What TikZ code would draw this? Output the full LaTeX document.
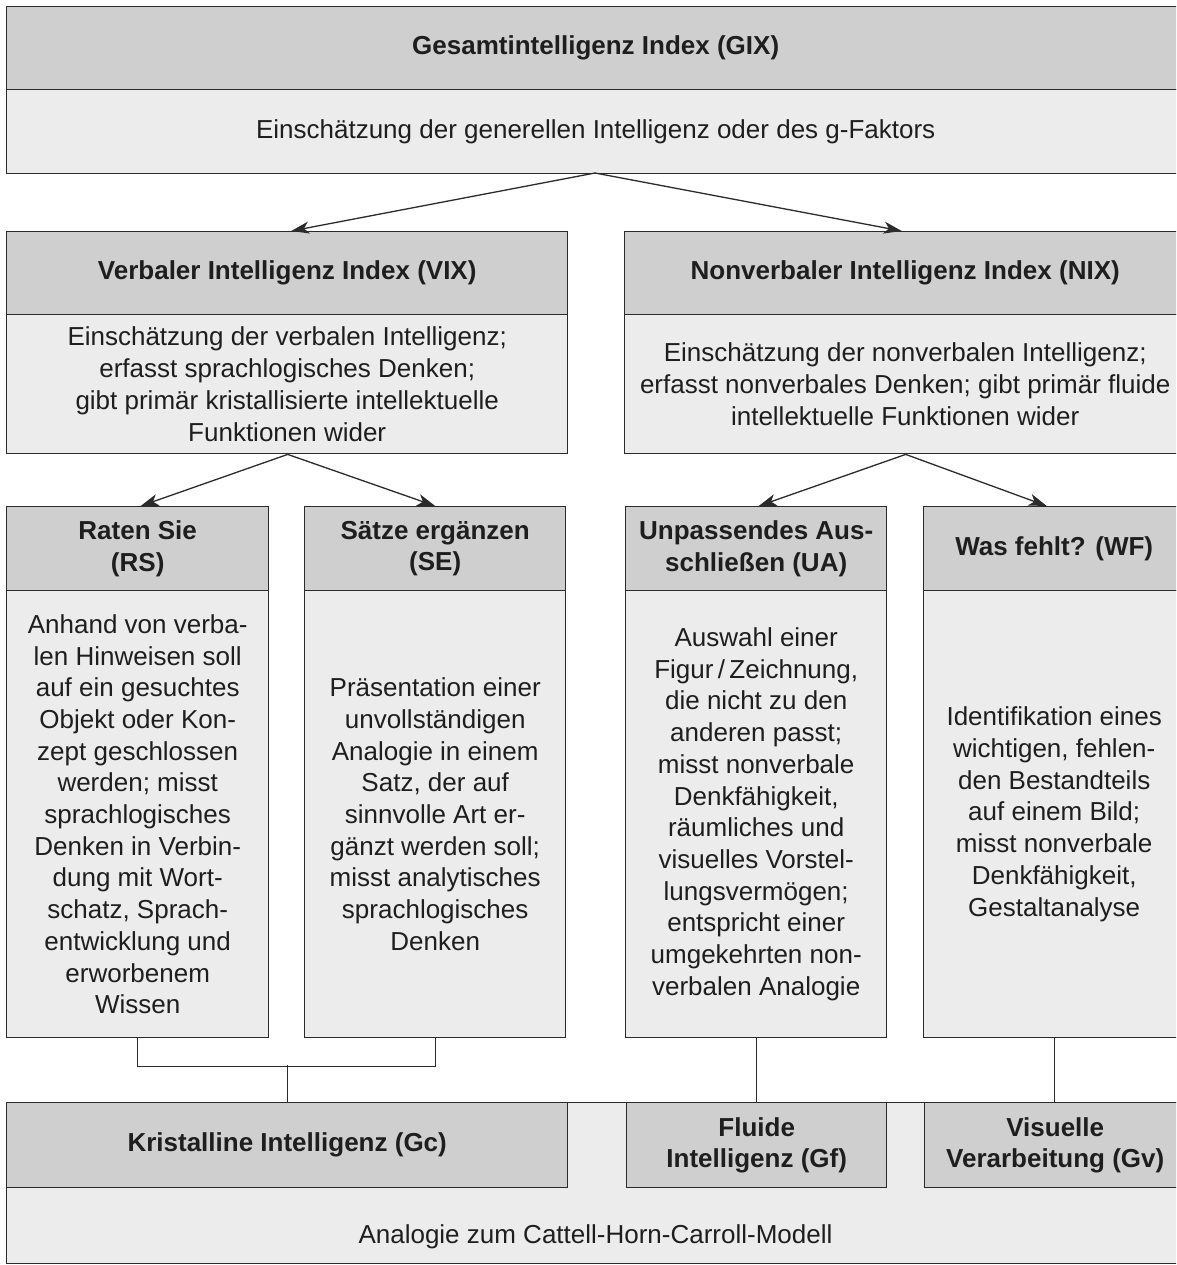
\documentclass[tikz,border=0pt]{standalone}
\usepackage{fontspec}
\setmainfont{Liberation Sans}
\usetikzlibrary{arrows.meta}
\definecolor{lc}{HTML}{2B2B2B}
\definecolor{hc}{HTML}{CFCFCF}
\definecolor{bc}{HTML}{ECECEC}
\definecolor{tc}{HTML}{1E1E1E}
\begin{document}
\begin{tikzpicture}[x=1pt,y=-1pt,
  box/.style={draw=lc, line width=1.4pt, inner sep=0pt, anchor=north west, align=center, text=tc},
  hdr/.style={box, fill=hc, font=\fontsize{26}{31.7}\selectfont\bfseries},
  bdy/.style={box, fill=bc, font=\fontsize{26}{31.7}\selectfont},
  arr/.style={draw=lc, line width=1.3pt, -{Stealth[length=18pt,width=12pt,inset=5pt]}},
  con/.style={draw=lc, line width=1.3pt}]
\useasboundingbox (0,0) rectangle (1176,1265);
\clip (0,0) rectangle (1176,1265);

% top
\node[hdr, minimum width=1178pt, minimum height=83pt] (gixh) at (6,6) {Gesamtintelligenz Index (GIX)};
\node[bdy, minimum width=1178pt, minimum height=84pt] (gixb) at (6,89) {Einschätzung der generellen Intelligenz oder des g-Faktors};

% level 2
\node[hdr, minimum width=561pt, minimum height=83pt] (vixh) at (6,231) {Verbaler Intelligenz Index (VIX)};
\node[bdy, minimum width=561pt, minimum height=139pt] (vixb) at (6,314) {Einschätzung der verbalen Intelligenz;\\erfasst sprachlogisches Denken;\\gibt primär kristallisierte intellektuelle\\Funktionen wider};

\node[hdr, minimum width=561pt, minimum height=83pt] (nixh) at (624,231) {Nonverbaler Intelligenz Index (NIX)};
\node[bdy, minimum width=561pt, minimum height=139pt] (nixb) at (624,314) {Einschätzung der nonverbalen Intelligenz;\\erfasst nonverbales Denken; gibt primär fluide\\intellektuelle Funktionen wider};

% level 3
\node[hdr, minimum width=262pt, minimum height=84pt] (rsh) at (6,506) {Raten Sie\\(RS)};
\node[bdy, minimum width=262pt, minimum height=447pt] (rsb) at (6,590) {Anhand von verba-\\len Hinweisen soll\\auf ein gesuchtes\\Objekt oder Kon-\\zept geschlossen\\werden; misst\\sprachlogisches\\Denken in Verbin-\\dung mit Wort-\\schatz, Sprach-\\entwicklung und\\erworbenem\\Wissen};

\node[hdr, minimum width=261pt, minimum height=84pt] (seh) at (304,506) {Sätze ergänzen\\(SE)};
\node[bdy, minimum width=261pt, minimum height=447pt] (seb) at (304,590) {Präsentation einer\\unvollständigen\\Analogie in einem\\Satz, der auf\\sinnvolle Art er-\\gänzt werden soll;\\misst analytisches\\sprachlogisches\\Denken};

\node[hdr, minimum width=261pt, minimum height=84pt] (uah) at (625,506) {Unpassendes Aus-\\schließen (UA)};
\node[bdy, minimum width=261pt, minimum height=447pt] (uab) at (625,590) {Auswahl einer\\Figur\,/\,Zeichnung,\\die nicht zu den\\anderen passt;\\misst nonverbale\\Denkfähigkeit,\\räumliches und\\visuelles Vorstel-\\lungsvermögen;\\entspricht einer\\umgekehrten non-\\verbalen Analogie};

\node[hdr, minimum width=261pt, minimum height=84pt] (wfh) at (923,506) {Was fehlt? (WF)};
\node[bdy, minimum width=261pt, minimum height=447pt] (wfb) at (923,590) {Identifikation eines\\wichtigen, fehlen-\\den Bestandteils\\auf einem Bild;\\misst nonverbale\\Denkfähigkeit,\\Gestaltanalyse};

% bottom
\node[bdy, minimum width=1179pt, minimum height=161pt, anchor=north west] (chc) at (6,1102) {};
\node[bdy, font=\fontsize{26}{31.7}\selectfont, draw=none, fill=none, anchor=center] (chct) at (595.5,1237) {Analogie zum Cattell-Horn-Carroll-Modell};
\node[hdr, minimum width=561pt, minimum height=85pt] (gc) at (6,1102) {Kristalline Intelligenz (Gc)};
\node[hdr, minimum width=260pt, minimum height=85pt] (gf) at (626,1102) {Fluide\\Intelligenz (Gf)};
\node[hdr, minimum width=261pt, minimum height=85pt] (gv) at (924,1102) {Visuelle\\Verarbeitung (Gv)};

% arrows
\coordinate (ga) at (595,173);
\draw[arr] (ga) -- ([xshift=4pt]vixh.north);
\draw[arr] (ga) -- ([xshift=-3.5pt]nixh.north);
\draw[arr] ([xshift=0.5pt]vixb.south) -- ([xshift=3pt]rsh.north);
\draw[arr] ([xshift=0.5pt]vixb.south) -- (seh.north);
\coordinate (na) at ([xshift=0.5pt]nixb.south);
\draw[arr] (na) -- ([xshift=2.5pt]uah.north);
\draw[arr] (na) -- ([xshift=-7.5pt]wfh.north);

% connectors
\draw[con] (rsb.south) -- ++(0,28) -| (seb.south);
\draw[con] (gc.north) -- ++(0,-37);
\draw[con] (uab.south) -- (uab.south |- gf.north);
\draw[con] (wfb.south) -- (wfb.south |- gv.north);
\end{tikzpicture}
\end{document}
